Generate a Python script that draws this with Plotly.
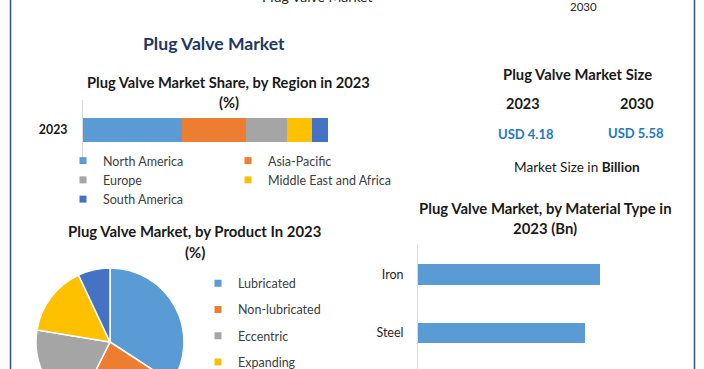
import plotly.graph_objects as go

W, H = 704, 440  # page is taller than the 369px window; the bottom is cut like the reference

# ---------------- data ----------------
region_year = ["2023"]
regions = ["North America", "Asia-Pacific", "Europe", "Middle East and Africa", "South America"]
region_share = [40.3, 26.3, 16.6, 10.4, 6.4]

products = ["Lubricated", "Non-lubricated", "Eccentric", "Expanding", "Multiport"]
product_share = [34.2, 23.2, 20.2, 15.4, 7.0]

materials = ["Iron", "Steel"]
material_value = [1.46, 1.34]

size_years = ["2023", "2030"]
size_values = [4.18, 5.58]

COLORS = ["#5B9BD5", "#ED7D31", "#A5A5A5", "#FFC000", "#4472C4"]
FONT = "Lato"
TXT = "#404040"


def px(x):
    return x / W


def py(y):
    return 1 - y / H


fig = go.Figure()

# ---- region stacked bar ----
col_of = {0: "legend", 1: "legend2", 2: "legend", 3: "legend2", 4: "legend"}
for i, (r, v) in enumerate(zip(regions, region_share)):
    fig.add_trace(go.Bar(x=[v], y=region_year, orientation="h", name=r,
                         marker=dict(color=COLORS[i], line=dict(width=0)),
                         width=0.4, xaxis="x", yaxis="y", showlegend=False,
                         hoverinfo="name+x"))
for i in [0, 2, 4, 1, 3]:
    fig.add_trace(go.Scatter(x=[None], y=[None], mode="markers", name=regions[i],
                             marker=dict(symbol="square", size=7, color=COLORS[i]),
                             xaxis="x", yaxis="y", legend=col_of[i]))

# ---- product pie ----
fig.add_trace(go.Pie(labels=products, values=product_share, sort=False,
                     direction="clockwise", rotation=0,
                     marker=dict(colors=COLORS, line=dict(color="white", width=1.5)),
                     textinfo="none", showlegend=False,
                     domain=dict(x=[px(36), px(184)], y=[py(416), py(268)])))
for i, p in enumerate(products):
    fig.add_trace(go.Scatter(x=[None], y=[None], mode="markers", name=p,
                             legendgroup=p,
                             marker=dict(symbol="square", size=7, color=COLORS[i]),
                             xaxis="x", yaxis="y", legend="legend3"))

# ---- material bars ----
fig.add_trace(go.Bar(x=material_value, y=materials, orientation="h",
                     marker=dict(color="#5B9BD5", line=dict(width=0)), width=0.35,
                     xaxis="x2", yaxis="y2", showlegend=False))

unit = 58.2
LEGFONT = dict(size=12.5, color=TXT, family=FONT)
fig.update_layout(
    width=W, height=H, margin=dict(l=0, r=0, t=0, b=0),
    paper_bgcolor="white", plot_bgcolor="white",
    barmode="stack", font=dict(family=FONT, color=TXT, size=12),
    xaxis=dict(domain=[px(83), px(390)], range=[0, 125.3], visible=False, fixedrange=True),
    yaxis=dict(domain=[py(160), py(100)], range=[-0.5, 0.5], type="category",
               showline=True, linecolor="#D9D9D9", linewidth=1, showgrid=False,
               ticks="", ticklabelstandoff=12,
               tickfont=dict(size=12.4, color="#1A1A1A", weight="bold")),
    xaxis2=dict(domain=[px(418), px(680)], range=[0, 262 / 124.7], visible=False, anchor="y2"),
    yaxis2=dict(domain=[0, py(245)], anchor="x2", type="category",
                range=[(H - 274.5) / unit, -(274.5 - 245) / unit],
                showline=True, linecolor="#D9D9D9", linewidth=1, showgrid=False,
                ticks="", ticklabelstandoff=11, tickfont=dict(size=12.5, color="#262626")),
    legend=dict(x=px(63), y=py(146), xanchor="left", yanchor="top",
                bgcolor="rgba(0,0,0,0)", font=LEGFONT, traceorder="normal",
                tracegroupgap=0, itemclick=False),
    legend2=dict(x=px(228), y=py(146), xanchor="left", yanchor="top",
                 bgcolor="rgba(0,0,0,0)", font=LEGFONT, traceorder="normal",
                 tracegroupgap=0, itemclick=False),
    legend3=dict(x=px(198), y=py(268.5), xanchor="left", yanchor="top",
                 bgcolor="rgba(0,0,0,0)", font=LEGFONT, traceorder="grouped",
                 tracegroupgap=7, itemclick=False),
    showlegend=True,
)

ann = []


def T(text, x, y, size=12, color="#1A1A1A", bold=False, family=FONT):
    if bold:
        text = "<b>" + text + "</b>"
    ann.append(dict(text=text, x=px(x), y=py(y), xref="paper", yref="paper",
                    xanchor="center", yanchor="middle", showarrow=False,
                    font=dict(size=size, color=color, family=family)))


T("Plug Valve Market", 317, -3, size=14, color="#262626")
T("2030", 583, 6, size=11.5, color="#262626")
T("Plug Valve Market", 214, 44, size=17.6, color="#203864", bold=True)

T("Plug Valve Market Share, by Region in 2023", 229, 82, size=14.7, bold=True)
T("(%)", 229, 102, size=14.7, bold=True)

T("Plug Valve Market Size", 577, 74, size=14.8, bold=True)
T(size_years[0], 523, 104, size=14.5, bold=True)
T(size_years[1], 637, 104, size=14.5, bold=True)
T(f"USD {size_values[0]:.2f}", 526, 134, size=13, color="#1F78C1", bold=True)
T(f"USD {size_values[1]:.2f}", 636, 133, size=13, color="#1F78C1", bold=True)
T("Market Size in <b>Billion</b>", 577, 167, size=13.6, color="#1A1A1A")

T("Plug Valve Market, by Product In 2023", 194, 231, size=14.9, bold=True)
T("(%)", 195, 252, size=14.9, bold=True)

T("Plug Valve Market, by Material Type in", 545, 208, size=14.9, bold=True)
T("2023 (Bn)", 545, 228, size=14.9, bold=True)

fig.update_layout(annotations=ann)

shapes = []
for xv in [10.5, 694.5]:
    shapes.append(dict(type="line", xref="paper", yref="paper", x0=px(xv), x1=px(xv),
                       y0=0, y1=1, line=dict(color="#2F5480", width=1.5)))
fig.update_layout(shapes=shapes)

fig.write_html("out.html", config=dict(displayModeBar=False),
               post_script="document.body.style.overflow='hidden';document.body.style.margin='0';")
